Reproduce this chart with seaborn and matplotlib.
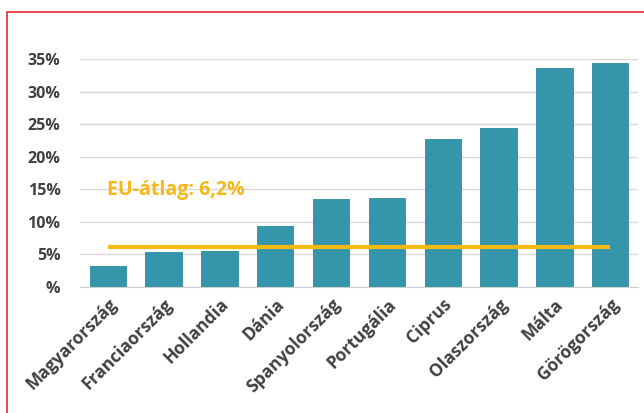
import numpy as np
import pandas as pd
import seaborn as sns
import matplotlib.pyplot as plt
from matplotlib.patches import Rectangle

# adatok
orszagok = ['Magyarország', 'Franciaország', 'Hollandia', 'Dánia', 'Spanyolország',
            'Portugália', 'Ciprus', 'Olaszország', 'Málta', 'Görögország']
ertekek = [3.2, 5.4, 5.6, 9.3, 13.5, 13.6, 22.7, 24.4, 33.6, 34.4]
eu_atlag = 6.2
y_ticks = [0, 5, 10, 15, 20, 25, 30, 35]
y_labels = ['%', '5%', '10%', '15%', '20%', '25%', '30%', '35%']

sns.set_style('white')
plt.rcParams['font.family'] = ['Open Sans', 'DejaVu Sans']

df = pd.DataFrame({'orszag': orszagok, 'ertek': ertekek})

fig = plt.figure(figsize=(6.44, 4.13), dpi=100)
ax = fig.add_axes([0.124, 0.305, 0.867, 0.552])

sns.barplot(data=df, x='orszag', y='ertek', color='#3495ab', width=0.65,
            saturation=1, edgecolor='#2f8aa0', linewidth=0.6, ax=ax, zorder=2)

# EU-átlag vonal
ax.plot([0, len(orszagok) - 1], [eu_atlag, eu_atlag], color='#f6bb12', lw=3, zorder=3,
        solid_capstyle='butt')
ax.text(-0.02, 14.9, f'EU-átlag: {str(eu_atlag).replace(".", ",")}%', color='#f6b71a',
        fontsize=14, fontweight='bold', va='center', ha='left')

ax.set_ylim(0, 35)
ax.set_xlim(-0.5, len(orszagok) - 0.5)
ax.set_yticks(y_ticks)
ax.set_yticklabels(y_labels)
ax.yaxis.grid(True, color='#d9d9d9', lw=1, zorder=0)
ax.set_axisbelow(True)

ax.set_xlabel('')
ax.set_ylabel('')
for s in ['top', 'right', 'left']:
    ax.spines[s].set_visible(False)
ax.spines['bottom'].set_color('#d0d0d0')

ax.tick_params(axis='y', length=0, labelsize=11.5, labelcolor='#404040', pad=14)
ax.tick_params(axis='x', which='major', length=0, labelsize=12.5, labelcolor='#404040', pad=6)
ax.set_xticks(np.arange(len(orszagok) + 1) - 0.5, minor=True)
ax.tick_params(axis='x', which='minor', length=5, color='#d0d0d0')
for lab in ax.get_xticklabels():
    lab.set_rotation(45)
    lab.set_ha('right')
    lab.set_rotation_mode('anchor')
    lab.set_fontweight('bold')
for lab in ax.get_yticklabels():
    lab.set_fontweight('bold')

# piros keret
fig.patches.append(Rectangle((7 / 644, -0.05), 1.0, 1 - 12 / 413 + 0.05,
                             transform=fig.transFigure, fill=False,
                             edgecolor='#e8262b', lw=1.2))

fig.savefig('out.png', dpi=100)
